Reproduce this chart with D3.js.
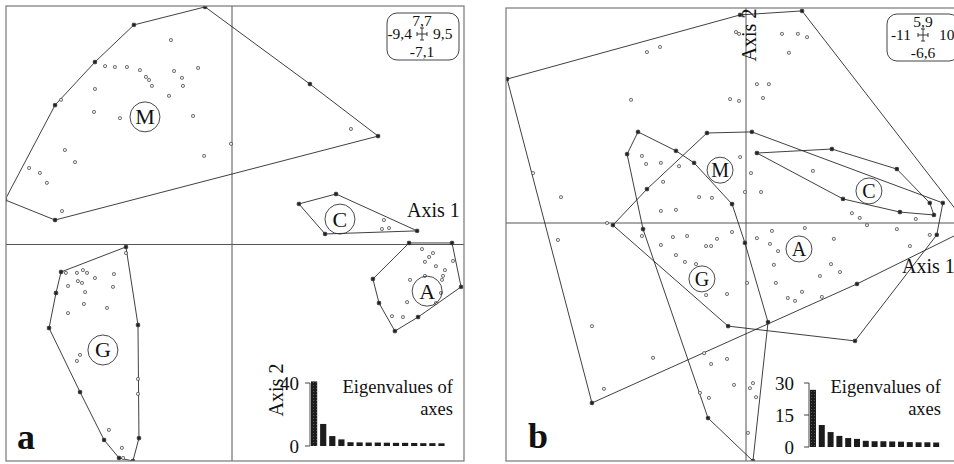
<!DOCTYPE html>
<html>
<head>
<meta charset="utf-8">
<script src="https://cdn.jsdelivr.net/npm/d3@7"></script>
<style>
  body { margin: 0; background: #fff; }
  svg text { font-family: "Liberation Serif", "DejaVu Serif", serif; fill: #111; }
</style>
</head>
<body>
<svg id="chart" width="954" height="464" font-family="Liberation Serif, DejaVu Serif, serif"></svg>
<script>
// ---- Data: PCA scores (Axis 1, Axis 2) per group ----
const groupNames = ["M", "C", "A", "G"];

// Panel a
const extentA = [-9.4, 9.5, -7.1, 7.7];          // x min, x max, y min, y max
const scoresA_M = [
  [-9.44,1.44],[-7.36,0.79],[5.98,3.50],[-1.12,7.67],[-4.08,7.09],[-7.36,4.50],[-5.70,5.89],[3.19,5.18],
  [-2.54,6.60],[-5.28,5.76],[-4.87,5.73],[-4.37,5.73],[-3.83,5.63],[-3.58,5.41],[-3.45,5.31],[-3.33,5.12],
  [-2.41,5.60],[-2.08,5.38],[-2.04,5.12],[-1.41,5.70],[-5.70,5.02],[-2.62,4.80],[-5.74,4.28],[-4.66,4.08],
  [-1.62,4.15],[-6.95,3.05],[-6.53,2.66],[-8.44,2.47],[-7.99,2.31],[-7.70,1.99],[-7.07,1.08],[-1.16,2.86],
  [-0.04,3.25],[4.87,3.73],[-7.11,4.67]
];
const scoresA_C = [[2.74,1.31],[4.26,1.63],[7.58,0.44],[3.81,0.34],[6.22,0.79],[6.14,0.50],[6.43,0.53]];
const scoresA_A = [
  [7.25,0.05],[9.01,0.05],[9.38,-1.39],[6.67,-2.84],[6.02,-1.92],[5.77,-1.13],[8.35,-1.92],[7.62,-2.38],
  [7.78,-0.15],[8.23,-0.28],[8.07,-0.41],[7.90,-0.57],[8.35,-0.71],[9.05,-0.54],[8.72,-0.84],[8.64,-1.03],
  [8.60,-1.16],[7.29,-1.16],[8.56,-1.59],[7.17,-1.89],[6.55,-2.35],[7.00,-2.38],[7.90,-1.03]
];
const scoresA_G = [
  [-4.41,-0.08],[-7.11,-0.90],[-7.61,-2.74],[-5.32,-6.41],[-4.70,-7.00],[-4.12,-7.10],[-3.87,-6.35],[-3.91,-2.64],
  [-4.41,-0.28],[-7.32,-1.59],[-6.32,-4.84],[-3.91,-4.41],[-3.91,-4.90],[-4.53,-7.00],
  [-6.91,-0.93],[-6.45,-0.93],[-6.20,-0.84],[-6.03,-0.93],[-6.41,-1.20],[-6.24,-1.26],[-5.70,-1.10],[-4.91,-0.97],
  [-6.82,-1.36],[-6.11,-1.56],[-4.95,-1.39],[-6.16,-1.95],[-5.20,-2.08],[-6.82,-2.25],[-6.32,-3.62],[-6.45,-3.82],
  [-5.12,-6.08],[-4.58,-6.67]
];
const labelPosA = [[-3.62,4.12],[4.42,0.82],[7.99,-1.53],[-5.37,-3.46]];
const eigenA = [41, 14, 6.3, 4.2, 2.4, 2.3, 2.2, 2.2, 2.1, 2.0, 2.0, 1.9, 1.8, 1.8, 1.7];
const eigenTicksA = [0, 40];

// Panel b
const extentB = [-11, 10, -6.6, 5.9];
const scoresB_M = [
  [-10.95,3.95],[2.57,5.82],[10.28,-0.14],[-7.06,-4.99],[-9.76,1.37],[-0.27,5.71],
  [-0.46,5.24],[-0.32,5.19],[-4.54,4.69],[-3.94,4.83],[-5.27,3.38],[-0.73,3.40],[-0.32,3.35],[1.65,5.19],
  [2.38,5.19],[2.80,5.10],[1.97,4.67],[0.50,3.81],[1.05,3.81],[0.78,3.43],
  [-8.48,0.71],[-8.62,-0.47],[-7.06,-2.86],[-4.26,-3.74],[-6.51,-4.60],[-6.37,0.00],[7.52,-0.64],[8.43,-0.33],
  [3.48,-2.05],[5.09,-1.69]
];
const scoresB_C = [[0.50,1.92],[3.94,2.03],[6.92,1.48],[8.43,0.55],[8.62,0.22],[7.06,0.30],[4.45,0.66],[3.07,1.43]];
const scoresB_A = [
  [-6.10,-0.06],[-1.79,2.47],[0.27,2.50],[9.03,0.55],[8.75,-0.33],[5.00,-3.27],[-0.82,-2.86],[-4.54,0.93],
  [-0.27,1.81],[0.23,1.37],[-0.05,0.85],[0.69,0.85],[4.86,0.27],[5.22,0.14],[7.79,0.11],[6.92,-0.17],
  [5.55,-0.06],[1.19,-0.22],[0.50,-0.42],[2.70,-0.14],[4.03,-0.44],[1.10,-0.58],[1.47,-0.78],[1.28,-1.16],
  [3.90,-1.14],[4.31,-1.36],[3.39,-1.47],[1.37,-1.66],[2.57,-1.91],[1.92,-2.08],[2.25,-2.16],[-4.77,-0.36]
];
const scoresB_G = [
  [-4.95,2.50],[-5.45,1.89],[-2.11,-4.71],[-1.74,-5.41],[0.32,-6.60],[1.01,-2.75],[-0.64,0.52],[-2.38,1.65],
  [-3.21,1.98],[-4.72,-0.17],
  [-4.77,1.84],[-4.58,1.62],[-3.90,1.65],[-3.07,1.56],[-3.80,1.13],[-2.15,0.71],[-1.56,0.69],[-3.90,0.33],
  [-3.21,0.36],[-3.35,-0.39],[-2.70,-0.36],[-3.90,-0.61],[-1.83,-0.64],[-1.60,-0.64],[-3.21,-0.89],
  [-2.80,-1.08],[-2.29,-1.14],[-1.83,-2.00],[-0.87,-1.97],[-1.92,-3.61],[-1.60,-3.91],[-0.87,-3.77],[-1.70,-4.85],
  [-0.55,-4.49],[0.32,-4.44],[0.18,-4.58],[0.46,-4.83],[0.09,-5.82],[0.05,-1.66],[-0.05,-0.55],[-0.64,-0.25],
  [-1.33,-0.44]
];
const labelPosB = [[-1.19,1.45],[5.64,0.88],[2.43,-0.72],[-2.02,-1.55]];
const eigenB = [26.8, 10.3, 7.0, 5.2, 4.2, 3.8, 2.9, 2.7, 2.7, 2.6, 2.5, 2.3, 2.2, 2.2, 2.1];
const eigenTicksB = [0, 15, 30];

// ---- Layout ----
const panels = [
  {
    id: "a", extent: extentA, groups: [scoresA_M, scoresA_C, scoresA_A, scoresA_G], labels: labelPosA,
    left: 6, right: 464, top: 6, bottom: 461, ox: 232, oy: 244.5, labelR: 15, labelFont: 22,
    box: { x: 387, y: 13, w: 72, h: 47, cx: 422, cy: 34, leftEnd: 412, rightStart: 433 },
    axis1: [407, 217], axis2: [283, 390],
    eigen: eigenA, eigenTicks: eigenTicksA, inset: { axisX: 310, y0: 446, yTop: 383, step: 9.1, tickEnd: 299, titleEnd: 453 },
    tag: [17, 449]
  },
  {
    id: "b", extent: extentB, groups: [scoresB_M, scoresB_C, scoresB_A, scoresB_G], labels: labelPosB,
    left: 506, right: 964, top: 8, bottom: 461, ox: 746, oy: 223, labelR: 13, labelFont: 20,
    box: { x: 887, y: 14, w: 72, h: 47, cx: 923, cy: 35, leftEnd: 911, rightStart: 939 },
    axis1: [902, 273], axis2: [756, 35],
    eigen: eigenB, eigenTicks: eigenTicksB, inset: { axisX: 809, y0: 447, yTop: 383, step: 8.8, tickEnd: 794, titleEnd: 941 },
    tag: [528, 448]
  }
];

const serif = "Liberation Serif, DejaVu Serif, serif";
const svg = d3.select("#chart");
const defs = svg.append("defs");
const pat = defs.append("pattern").attr("id", "stipple")
  .attr("width", 3).attr("height", 3).attr("patternUnits", "userSpaceOnUse");
pat.append("rect").attr("width", 3).attr("height", 3).attr("fill", "#1c1c1c");
pat.append("rect").attr("x", 1).attr("y", 1).attr("width", 1).attr("height", 1).attr("fill", "#5a5a5a");

const fmt = d3.formatLocale({ decimal: ",", thousands: " ", grouping: [3], currency: ["", ""], minus: "-" }).format(".2~r");

function drawPanel(p) {
  const g = svg.append("g").attr("font-family", serif);
  const x = d3.scaleLinear().domain([p.extent[0], 0, p.extent[1]]).range([p.left, p.ox, p.right]);
  const y = d3.scaleLinear().domain([p.extent[3], 0, p.extent[2]]).range([p.top, p.oy, p.bottom]);

  const clipId = "clip-" + p.id;
  defs.append("clipPath").attr("id", clipId).append("rect")
    .attr("x", p.left).attr("y", p.top).attr("width", p.right - p.left).attr("height", p.bottom - p.top);
  const plot = g.append("g").attr("clip-path", `url(#${clipId})`);

  // axes through the origin
  plot.append("line").attr("x1", x(0)).attr("x2", x(0)).attr("y1", p.top).attr("y2", p.bottom)
    .attr("stroke", "#555").attr("stroke-width", 1);
  plot.append("line").attr("x1", p.left).attr("x2", p.right).attr("y1", y(0)).attr("y2", y(0))
    .attr("stroke", "#555").attr("stroke-width", 1);

  // convex hulls and individual scores
  p.groups.forEach(pts => {
    const px = pts.map(d => [x(d[0]), y(d[1])]);
    const hull = d3.polygonHull(px);
    plot.append("path").attr("d", "M" + hull.join("L") + "Z")
      .attr("fill", "none").attr("stroke", "#2a2a2a").attr("stroke-width", 0.9);
    const onHull = new Set(hull);
    plot.append("g").selectAll("rect").data(px).join("rect")
      .attr("x", d => d[0] - (onHull.has(d) ? 1.7 : 1.4))
      .attr("y", d => d[1] - (onHull.has(d) ? 1.7 : 1.4))
      .attr("width", d => onHull.has(d) ? 3.4 : 2.8)
      .attr("height", d => onHull.has(d) ? 3.4 : 2.8)
      .attr("rx", 0.8)
      .attr("fill", d => onHull.has(d) ? "#222" : "#f4f4f4")
      .attr("stroke", "#3a3a3a").attr("stroke-width", 0.8);
  });

  // group labels
  const lab = plot.append("g").selectAll("g").data(p.labels).join("g")
    .attr("transform", d => `translate(${x(d[0])},${y(d[1])})`);
  lab.append("circle").attr("r", p.labelR).attr("fill", "none").attr("stroke", "#333").attr("stroke-width", 0.9);
  lab.append("text").attr("text-anchor", "middle").attr("dy", "0.34em")
    .attr("font-size", p.labelFont).text((d, i) => groupNames[i]);

  // frame
  g.append("rect").attr("x", p.left).attr("y", p.top).attr("width", p.right - p.left).attr("height", p.bottom - p.top)
    .attr("fill", "none").attr("stroke", "#777").attr("stroke-width", 1.2);

  // extent box
  const b = p.box;
  g.append("rect").attr("x", b.x).attr("y", b.y).attr("width", b.w).attr("height", b.h)
    .attr("rx", 10).attr("ry", 10).attr("fill", "#fff").attr("stroke", "#444").attr("stroke-width", 1);
  const bt = g.append("g").attr("font-size", 15.5);
  bt.append("text").attr("x", b.cx).attr("y", b.cy - 8).attr("text-anchor", "middle").text(fmt(p.extent[3]));
  bt.append("text").attr("x", b.cx).attr("y", b.cy + 23).attr("text-anchor", "middle").text(fmt(p.extent[2]));
  bt.append("text").attr("x", b.leftEnd).attr("y", b.cy + 5).attr("text-anchor", "end").text(fmt(p.extent[0]));
  bt.append("text").attr("x", b.rightStart).attr("y", b.cy + 5).attr("text-anchor", "start").text(fmt(p.extent[1]));
  const cr = g.append("g").attr("transform", `translate(${b.cx},${b.cy})`)
    .attr("stroke", "#222").attr("stroke-width", 0.9);
  cr.append("line").attr("x1", -5).attr("x2", 5).attr("y1", 0).attr("y2", 0);
  cr.append("line").attr("x1", 0).attr("x2", 0).attr("y1", -6).attr("y2", 6);
  [[-5, 0, true], [5, 0, true], [0, -6, false], [0, 6, false]].forEach(([tx, ty, vert]) => {
    cr.append("line")
      .attr("x1", vert ? tx : tx - 2).attr("x2", vert ? tx : tx + 2)
      .attr("y1", vert ? ty - 2 : ty).attr("y2", vert ? ty + 2 : ty);
  });

  // axis titles
  g.append("text").attr("x", p.axis1[0]).attr("y", p.axis1[1]).attr("font-size", 20).text("Axis 1");
  g.append("text").attr("transform", `translate(${p.axis2[0]},${p.axis2[1]}) rotate(-90)`)
    .attr("text-anchor", "middle").attr("font-size", 20).text("Axis 2");

  // eigenvalue inset
  const ins = p.inset;
  const n = p.eigen.length;
  const pad = 0.32;
  const ey = d3.scaleLinear().domain([0, d3.max(p.eigenTicks)]).range([ins.y0, ins.yTop]);
  const ex = d3.scaleBand().domain(d3.range(n))
    .range([ins.axisX + 1, ins.axisX + 1 + ins.step * (n - pad)]).paddingInner(pad).paddingOuter(0);
  const eg = g.append("g");
  eg.selectAll("rect").data(p.eigen).join("rect")
    .attr("x", (d, i) => ex(i)).attr("width", ex.bandwidth())
    .attr("y", d => ey(d)).attr("height", d => ey(0) - ey(d))
    .attr("fill", (d, i) => i === 0 ? "url(#stipple)" : "#1c1c1c");
  eg.append("line").attr("x1", ins.axisX).attr("x2", ins.axisX).attr("y1", ey(0)).attr("y2", ey(d3.max(p.eigenTicks)))
    .attr("stroke", "#444").attr("stroke-width", 1);
  const tk = eg.selectAll("g.tk").data(p.eigenTicks).join("g").attr("class", "tk")
    .attr("transform", d => `translate(0,${ey(d)})`);
  tk.append("line").attr("x1", ins.axisX - 5).attr("x2", ins.axisX).attr("stroke", "#444");
  tk.append("text").attr("x", ins.tickEnd).attr("dy", "0.35em").attr("text-anchor", "end")
    .attr("font-size", 19).text(d => d);
  eg.append("text").attr("x", ins.titleEnd).attr("y", 393).attr("text-anchor", "end")
    .attr("font-size", 18.5).text("Eigenvalues of");
  eg.append("text").attr("x", ins.titleEnd).attr("y", 415).attr("text-anchor", "end")
    .attr("font-size", 18.5).text("axes");

  // panel tag
  g.append("text").attr("x", p.tag[0]).attr("y", p.tag[1]).attr("font-size", 36)
    .attr("font-weight", "bold").text(p.id);
}

panels.forEach(drawPanel);
</script>
</body>
</html>
